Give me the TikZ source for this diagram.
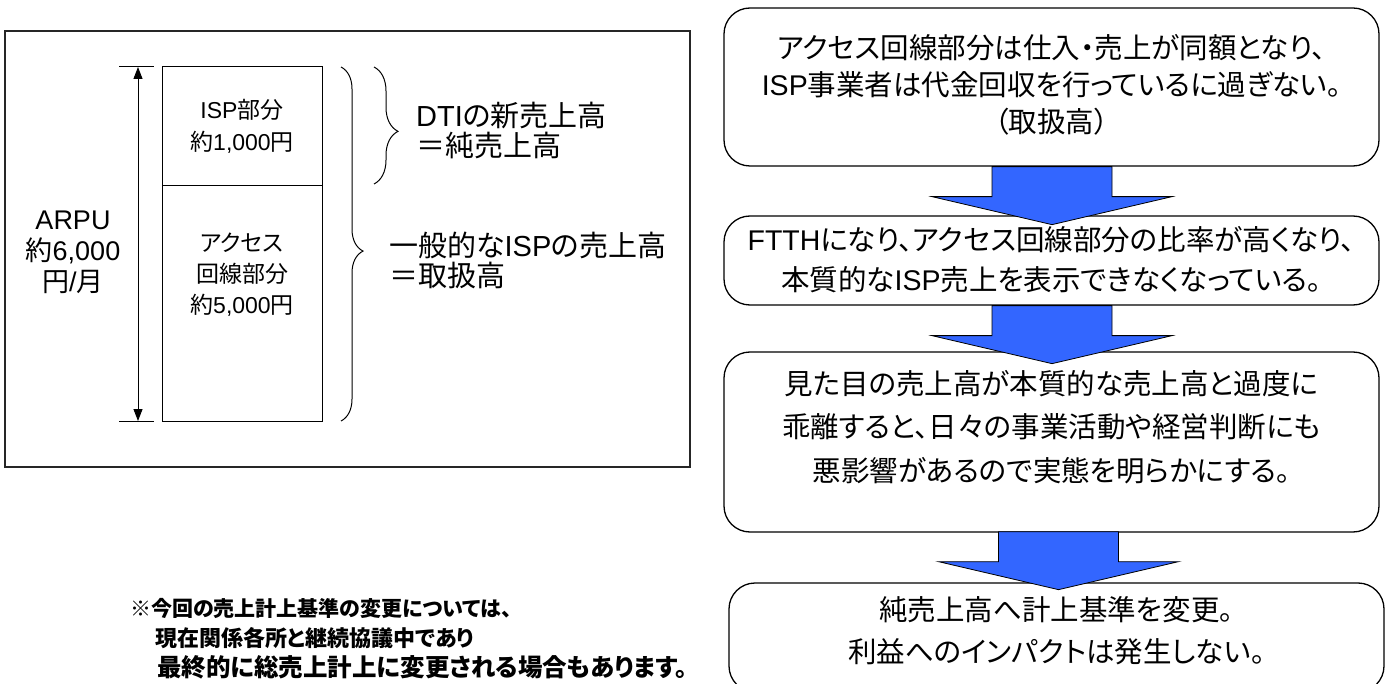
\documentclass[tikz,border=0pt]{standalone}
\usepackage{fontspec}
\setmainfont{Noto Sans CJK JP}[RawFeature={+palt}]
\newfontfamily\lat{Liberation Sans}
\newcommand\la[1]{{\lat #1}}
\usetikzlibrary{decorations.pathreplacing,arrows.meta,calc}
\definecolor{arrowblue}{HTML}{3366FF}
\newcommand\myblockarrow[1]{%
  \filldraw[fill=arrowblue,draw=black,line width=0.8pt]
    ($(#1)+(-60,0)$) -- ($(#1)+(60,0)$) -- ($(#1)+(60,30)$) -- ($(#1)+(120,30)$)
    -- ($(#1)+(0,58)$) -- ($(#1)+(-120,30)$) -- ($(#1)+(-60,30)$) -- cycle;}
\begin{document}
\begin{tikzpicture}[x=1pt,y=-1pt,
  rbox/.style={draw=black,line width=1.3pt,rounded corners=26pt,inner sep=0pt},
  sbox/.style={draw=black,line width=1pt,inner sep=0pt},
  btxt/.style={align=center,inner sep=0pt},
  ltxt/.style={align=center,inner sep=0pt},
  rtxt/.style={align=left,anchor=west,inner sep=0pt},
  brc/.style={decorate,line width=1pt}
]
\useasboundingbox (0,0) rectangle (1389,684);
% left frame
\node[draw=black!85,line width=1.5pt,minimum width=685pt,minimum height=436pt,inner sep=0pt] (frame) at (347.5,249) {};
% stacked boxes
\node[sbox,minimum width=160pt,minimum height=119pt] (isp) at (242,126.5) {};
\node[sbox,minimum width=160pt,minimum height=235pt] (acc) at (242,303.5) {};
\node[ltxt,font=\fontsize{23}{32}\selectfont] (ispt) at (242,126) {\la{ISP}部分\\約\la{1,000}円};
\node[ltxt,font=\fontsize{23}{31}\selectfont] (acct) at (242,275) {アクセス\\回線部分\\約\la{5,000}円};
% ARPU arrow
\coordinate (ttop) at (138,67);
\coordinate (tbot) at (138,421);
\coordinate (ttl) at (119,67); \coordinate (ttr) at (154,67);
\coordinate (tbl) at (119,421); \coordinate (tbr) at (154,421);
\draw[line width=1pt] (ttl) -- (ttr);
\draw[line width=1pt] (tbl) -- (tbr);
\draw[line width=1pt,{Triangle[length=12pt,width=9pt]}-{Triangle[length=12pt,width=9pt]}] (ttop) -- (tbot);
\node[align=center,font=\fontsize{27}{31}\selectfont,inner sep=0pt] (arpu) at (73,252) {\la{ARPU}\\約\la{6,000}\\円\la{/}月};
% braces
\coordinate (bbt) at (341,67); \coordinate (bbb) at (341,421);
\draw[brc,decoration={brace,amplitude=22pt,aspect=0.52}] (bbt) -- (bbb);
\coordinate (sbt) at (374,67); \coordinate (sbb) at (374,184);
\draw[brc,decoration={brace,amplitude=24pt,aspect=0.55}] (sbt) -- (sbb);
\node[rtxt,font=\fontsize{29}{30}\selectfont] (dti) at (416,130) {\la{DTI}の新売上高\\＝純売上高};
\node[rtxt,font=\fontsize{29}{30}\selectfont] (gen) at (389,260) {一般的な\la{ISP}の売上高\\＝取扱高};
% right flow
\node[rbox,minimum width=655pt,minimum height=158pt] (b1) at (1051.5,87) {};
\node[rbox,minimum width=655pt,minimum height=89pt] (b2) at (1051.5,260.5) {};
\node[rbox,minimum width=655pt,minimum height=180pt] (b3) at (1051.5,442) {};
\node[rbox,minimum width=655pt,minimum height=109pt] (b4) at (1056.5,637.5) {};
\node[btxt,font=\fontsize{28.5}{37}\selectfont] (t1) at (1051.5,85) {アクセス回線部分は仕入・売上が同額となり、\\\la{ISP}事業者は代金回収を行っているに過ぎない。\\（取扱高）};
\node[btxt,font=\fontsize{28.5}{40}\selectfont] (t2) at (1051.5,260) {\la{FTTH}になり、アクセス回線部分の比率が高くなり、\\本質的な\la{ISP}売上を表示できなくなっている。};
\node[btxt,font=\fontsize{28.5}{43.5}\selectfont] (t3) at (1051.5,427) {見た目の売上高が本質的な売上高と過度に\\乖離すると、日々の事業活動や経営判断にも\\悪影響があるので実態を明らかにする。};
\node[btxt,font=\fontsize{28.5}{42}\selectfont] (t4) at (1056.5,631) {純売上高へ計上基準を変更。\\利益へのインパクトは発生しない。};
\coordinate (a1) at ($(b1.south)+(0.5,0)$);
\coordinate (a2) at ($(b2.south)+(0.5,0)$);
\coordinate (a3) at ($(b3.south)+(7,-1)$);
\myblockarrow{a1}
\myblockarrow{a2}
\myblockarrow{a3}
% note
\node[rtxt,font=\fontsize{23}{30}\bfseries\selectfont] (note) at (130,639) {{\fontsize{21}{30}\selectfont ※今回の売上計上基準の変更については、}\\\hspace*{25pt}{\fontsize{22}{30}\selectfont 現在関係各所と継続協議中であり}\\\hspace*{27pt}{\fontsize{24.5}{30}\selectfont 最終的に総売上計上に変更される場合もあります。}};
\end{tikzpicture}
\end{document}
